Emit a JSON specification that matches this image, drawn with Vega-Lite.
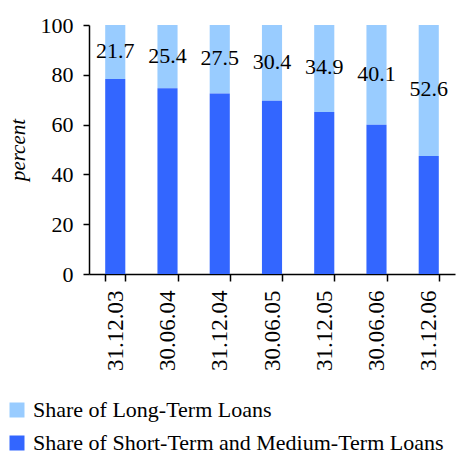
{
  "$schema": "https://vega.github.io/schema/vega-lite/v6.json",
  "width": 366,
  "height": 249,
  "autosize": "none",
  "padding": {"left": 89, "top": 25, "right": 7, "bottom": 181},
  "background": "white",
  "config": {
    "view": {"stroke": null},
    "font": "Liberation Serif",
    "axis": {"grid": false, "domainColor": "black", "tickColor": "black", "labelColor": "black", "titleColor": "black", "domainWidth": 1.5, "tickWidth": 1.5, "labelFont": "Liberation Serif", "titleFont": "Liberation Serif"}
  },
  "data": {
    "values": [
      {"date": "31.12.03", "type": "Share of Long-Term Loans", "value": 21.7},
      {"date": "30.06.04", "type": "Share of Long-Term Loans", "value": 25.4},
      {"date": "31.12.04", "type": "Share of Long-Term Loans", "value": 27.5},
      {"date": "30.06.05", "type": "Share of Long-Term Loans", "value": 30.4},
      {"date": "31.12.05", "type": "Share of Long-Term Loans", "value": 34.9},
      {"date": "30.06.06", "type": "Share of Long-Term Loans", "value": 40.1},
      {"date": "31.12.06", "type": "Share of Long-Term Loans", "value": 52.6},
      {"date": "31.12.03", "type": "Share of Short-Term and Medium-Term Loans", "value": 78.3},
      {"date": "30.06.04", "type": "Share of Short-Term and Medium-Term Loans", "value": 74.6},
      {"date": "31.12.04", "type": "Share of Short-Term and Medium-Term Loans", "value": 72.5},
      {"date": "30.06.05", "type": "Share of Short-Term and Medium-Term Loans", "value": 69.6},
      {"date": "31.12.05", "type": "Share of Short-Term and Medium-Term Loans", "value": 65.1},
      {"date": "30.06.06", "type": "Share of Short-Term and Medium-Term Loans", "value": 59.9},
      {"date": "31.12.06", "type": "Share of Short-Term and Medium-Term Loans", "value": 47.4}
    ]
  },
  "encoding": {
    "x": {
      "field": "date", "type": "nominal", "sort": null,
      "scale": {"paddingInner": 0.615, "paddingOuter": 0.31},
      "axis": {"title": null, "labelAngle": -90, "labelFontSize": 23, "tickBand": "extent", "tickSize": 7, "labelPadding": 9, "labelBaseline": "middle"}
    }
  },
  "layer": [
    {
      "mark": {"type": "bar"},
      "encoding": {
        "y": {
          "field": "value", "type": "quantitative", "stack": "zero",
          "scale": {"domain": [0, 100], "nice": false},
          "axis": {"title": "percent", "titleFontStyle": "italic", "titleFontWeight": "normal", "titleFontSize": 21, "titlePadding": 12, "labelFontSize": 22, "values": [0, 20, 40, 60, 80, 100], "labelOverlap": false, "tickSize": 6, "labelPadding": 10}
        },
        "color": {
          "field": "type", "type": "nominal",
          "scale": {"domain": ["Share of Long-Term Loans", "Share of Short-Term and Medium-Term Loans"], "range": ["#99CCFF", "#3366FF"]},
          "legend": {"title": null, "orient": "none", "legendX": -83, "legendY": 374, "symbolType": "square", "symbolSize": 225, "symbolStrokeWidth": 0, "labelFontSize": 22, "labelFont": "Liberation Serif", "labelColor": "black", "rowPadding": 11, "labelLimit": 500, "labelOffset": 5}
        },
        "order": {"field": "type", "sort": "descending"}
      }
    },
    {
      "transform": [
        {"filter": "datum.type === 'Share of Long-Term Loans'"},
        {"calculate": "100 - datum.value / 2", "as": "mid"}
      ],
      "mark": {"type": "text", "fontSize": 22, "font": "Liberation Serif", "color": "black", "baseline": "middle", "dy": -1},
      "encoding": {
        "y": {
          "field": "mid", "type": "quantitative",
          "scale": {"domain": [0, 100], "nice": false},
          "axis": {"title": "percent", "titleFontStyle": "italic", "titleFontWeight": "normal", "titleFontSize": 21, "titlePadding": 12, "labelFontSize": 22, "values": [0, 20, 40, 60, 80, 100], "labelOverlap": false, "tickSize": 6, "labelPadding": 10}
        },
        "text": {"field": "value", "type": "quantitative", "format": ".1f"}
      }
    }
  ]
}
